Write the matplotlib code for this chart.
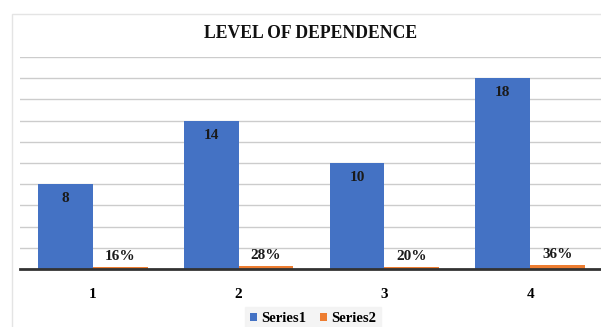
import numpy as np
import matplotlib
matplotlib.use("Agg")
import matplotlib.pyplot as plt
from matplotlib.patches import Rectangle

# data
categories = ["1", "2", "3", "4"]
series1 = [8, 14, 10, 18]
series2 = [0.16, 0.28, 0.20, 0.36]
series2_labels = ["16%", "28%", "20%", "36%"]

BLUE = "#4472C4"
ORANGE = "#ED7D31"
SERIF = "Liberation Serif"

fig = plt.figure(figsize=(6.01, 3.27), dpi=100)

# chart area frame
fig.patches.append(Rectangle((12 / 601, -0.01), 1.0, 1 - 14 / 327 + 0.01,
                             transform=fig.transFigure, facecolor="none",
                             edgecolor="#e4e4e4", linewidth=1.0, zorder=-1))

ax = fig.add_axes([20 / 601, 1 - 269 / 327, 583 / 601, 212 / 327])
ax.set_facecolor("none")

x = np.arange(len(categories))
w = 0.375
b1 = ax.bar(x - w / 2, series1, w, color=BLUE, label="Series1", zorder=3)
b2 = ax.bar(x + w / 2, series2, w, color=ORANGE, label="Series2", zorder=3)

ax.set_xlim(-0.5, 3.5)
ax.set_ylim(0, 20)
ax.set_yticks(np.arange(0, 21, 2))
ax.yaxis.grid(True, color="#cccccc", linewidth=1.0, zorder=0)
ax.set_axisbelow(True)
ax.tick_params(axis="y", left=False, labelleft=False)
ax.tick_params(axis="x", bottom=False, pad=10)
ax.set_xticks(x)
ax.set_xticklabels(categories, fontfamily=SERIF, fontweight="bold", fontsize=11)
for s in ["top", "right", "left"]:
    ax.spines[s].set_visible(False)
ax.spines["bottom"].set_color("#333333")
ax.spines["bottom"].set_linewidth(2)
ax.spines["bottom"].set_zorder(4)

for rect, v in zip(b1, series1):
    ax.annotate(str(v), (rect.get_x() + rect.get_width() / 2, rect.get_height()),
                xytext=(0, -10.5), textcoords="offset points", ha="center", va="center",
                fontfamily=SERIF, fontweight="bold", fontsize=11, color="#1a1a1a")
for rect, lab in zip(b2, series2_labels):
    ax.annotate(lab, (rect.get_x() + rect.get_width() / 2, rect.get_height()),
                xytext=(0, 7.5), textcoords="offset points", ha="center", va="center",
                fontfamily=SERIF, fontweight="bold", fontsize=11, color="#1a1a1a")

fig.text(0.5175, 1 - 33 / 327, "LEVEL OF DEPENDENCE", ha="center", va="center",
         fontfamily=SERIF, fontweight="bold", fontsize=12.7, color="#111111")

leg = fig.legend(loc="center", bbox_to_anchor=(313 / 601, 8 / 327), ncol=2,
                 frameon=True, fancybox=False, handlelength=0.5, handleheight=0.5,
                 handletextpad=0.3, columnspacing=0.9, borderpad=0.35,
                 prop={"family": SERIF, "weight": "bold", "size": 10.5})
leg.get_frame().set_facecolor("#f2f2f2")
leg.get_frame().set_edgecolor("#f2f2f2")

fig.savefig("out.png", dpi=100)
